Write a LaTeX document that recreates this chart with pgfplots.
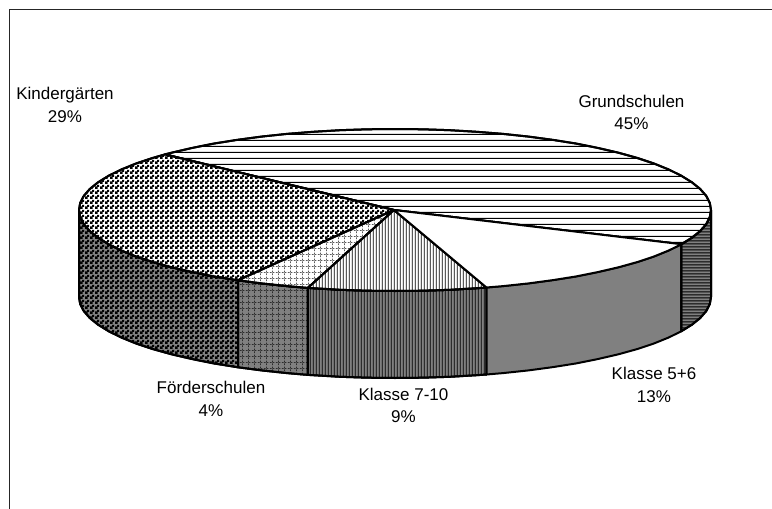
\documentclass[border=0pt]{standalone}
\usepackage{pgfplots}
\usepackage{fontspec}
\setmainfont{Liberation Sans}
\pgfplotsset{compat=1.18}
\usetikzlibrary{patterns}
\pgfdeclarepatternformonly{hlwide}{\pgfpointorigin}{\pgfqpoint{6bp}{6bp}}{\pgfqpoint{6bp}{6bp}}{
  \pgfsetlinewidth{1bp}\pgfpathmoveto{\pgfqpoint{-1bp}{3bp}}\pgfpathlineto{\pgfqpoint{7bp}{3bp}}\pgfusepath{stroke}}
\pgfdeclarepatternformonly{hlnarrow}{\pgfpointorigin}{\pgfqpoint{3bp}{3bp}}{\pgfqpoint{3bp}{3bp}}{
  \pgfsetlinewidth{1.1bp}\pgfpathmoveto{\pgfqpoint{-1bp}{1.5bp}}\pgfpathlineto{\pgfqpoint{4bp}{1.5bp}}\pgfusepath{stroke}}
\pgfdeclarepatternformonly{vlnarrow}{\pgfpointorigin}{\pgfqpoint{3bp}{3bp}}{\pgfqpoint{3bp}{3bp}}{
  \pgfsetlinewidth{1bp}\pgfpathmoveto{\pgfqpoint{1.5bp}{-1bp}}\pgfpathlineto{\pgfqpoint{1.5bp}{4bp}}\pgfusepath{stroke}}
\pgfdeclarepatternformonly{gridwide}{\pgfpointorigin}{\pgfqpoint{6bp}{6bp}}{\pgfqpoint{6bp}{6bp}}{
  \pgfsetlinewidth{0.6bp}\pgfsetdash{{2bp}{1bp}}{0bp}
  \pgfpathmoveto{\pgfqpoint{0bp}{3bp}}\pgfpathlineto{\pgfqpoint{6bp}{3bp}}
  \pgfpathmoveto{\pgfqpoint{3bp}{0bp}}\pgfpathlineto{\pgfqpoint{3bp}{6bp}}\pgfusepath{stroke}}
\pgfdeclarepatternformonly{checker}{\pgfpointorigin}{\pgfqpoint{5bp}{5bp}}{\pgfqpoint{5bp}{5bp}}{
  \pgfpathrectangle{\pgfqpoint{0bp}{0bp}}{\pgfqpoint{3.1bp}{3.1bp}}
  \pgfpathrectangle{\pgfqpoint{2.5bp}{2.5bp}}{\pgfqpoint{2.5bp}{2.5bp}}\pgfusepath{fill}}
\definecolor{wallgray}{HTML}{808080}
\begin{document}
\begin{tikzpicture}
\begin{axis}[
  at={(0,0)}, anchor=south west,
  scale only axis, width=772bp, height=509bp,
  xmin=0, xmax=772, ymin=0, ymax=509, y dir=reverse,
  hide axis, clip=false, no markers,
  every axis plot/.append style={sharp plot, line join=round},
]
% frame
\addplot[color=black!85, line width=1.5bp] coordinates {(9.5,509)(9.5,9.5)(772,9.5)};
% walls
\addplot[draw=black, line width=2bp, fill=wallgray, postaction={pattern=checker}] coordinates {
 (238,280.3)(213.7,276.4)(191.9,272)(171.6,267.3)(152.9,262.1)(136.1,256.5)(121.3,250.5)(108.6,244.2)(98.1,237.7)(89.8,231)(83.8,224.1)(80.2,217.1)(79,210)
 (79,297)(80.2,304.1)(83.8,311.1)(89.8,318)(98.1,324.7)(108.6,331.2)(121.3,337.5)(136.1,343.5)(152.9,349.1)(171.6,354.3)(191.9,359)(213.7,363.4)(238,367.3)} -- cycle;
\addplot[draw=black, line width=2bp, fill=wallgray, postaction={pattern=gridwide}] coordinates {
 (238,280.3)(261.5,283.4)(286.9,286.1)(307.9,287.9)(307.9,374.9)(286.9,373.1)(261.5,370.4)(238,367.3)} -- cycle;
\addplot[draw=black, line width=2bp, fill=wallgray, postaction={pattern=vlnarrow}] coordinates {
 (307.9,287.9)(313.2,288.2)(340.1,289.8)(367.4,290.7)(395,291)(422.6,290.7)(449.9,289.8)(476.8,288.2)(486.5,287.5)
 (486.5,374.5)(476.8,375.2)(449.9,376.8)(422.6,377.7)(395,378)(367.4,377.7)(340.1,376.8)(313.2,375.2)(307.9,374.9)} -- cycle;
\addplot[draw=black, line width=2bp, fill=wallgray] coordinates {
 (486.5,287.5)(503.1,286.1)(528.5,283.4)(553,280.1)(576.3,276.4)(598.1,272)(618.4,267.3)(637.1,262.1)(653.9,256.5)(668.7,250.5)(681.4,244.2)
 (681.4,331.2)(668.7,337.5)(653.9,343.5)(637.1,349.1)(618.4,354.3)(598.1,359)(576.3,363.4)(553,367.1)(528.5,370.4)(503.1,373.1)(486.5,374.5)} -- cycle;
\addplot[draw=black, line width=2bp, fill=wallgray, postaction={pattern=hlnarrow}] coordinates {
 (681.4,244.2)(691.9,237.7)(700.2,231)(706.2,224.1)(709.8,217.1)(711,210)
 (711,297)(709.8,304.1)(706.2,311.1)(700.2,318)(691.9,324.7)(681.4,331.2)} -- cycle;
% top faces
\addplot[draw=black, line width=2bp, fill=white, postaction={pattern=hlwide}] coordinates {
 (394,210)(165,154.4)(171.6,152.7)(191.9,148)(213.7,143.6)(237,139.9)(261.5,136.6)(286.9,133.9)(313.2,131.8)(340.1,130.2)(367.4,129.3)(395,129)(422.6,129.3)(449.9,130.2)(476.8,131.8)(503.1,133.9)(528.5,136.6)(553,139.9)(576.3,143.6)(598.1,148)(618.4,152.7)(637.1,157.9)(653.9,163.5)(668.7,169.5)(681.4,175.8)(691.9,182.3)(700.2,189)(706.2,195.9)(709.8,202.9)(711,210)(709.8,217.1)(706.2,224.1)(700.2,231)(691.9,237.7)(681.4,244.2)} -- cycle;
\addplot[draw=black, line width=2bp, fill=white, postaction={pattern=checker}] coordinates {
 (394,210)(238,280.3)(213.7,276.4)(191.9,272)(171.6,267.3)(152.9,262.1)(136.1,256.5)(121.3,250.5)(108.6,244.2)(98.1,237.7)(89.8,231)(83.8,224.1)(80.2,217.1)(79,210)(80.2,202.9)(83.8,195.9)(89.8,189)(98.1,182.3)(108.6,175.8)(121.3,169.5)(136.1,163.5)(152.9,157.9)(165,154.4)} -- cycle;
\addplot[draw=black, line width=2bp, fill=white, postaction={pattern=gridwide}] coordinates {
 (394,210)(307.9,287.9)(286.9,286.1)(261.5,283.4)(238,280.3)} -- cycle;
\addplot[draw=black, line width=2bp, fill=white, postaction={pattern=vlnarrow}] coordinates {
 (394,210)(486.5,287.5)(476.8,288.2)(449.9,289.8)(422.6,290.7)(395,291)(367.4,290.7)(340.1,289.8)(313.2,288.2)(307.9,287.9)} -- cycle;
\addplot[draw=black, line width=2bp, fill=white] coordinates {
 (394,210)(681.4,244.2)(668.7,250.5)(653.9,256.5)(637.1,262.1)(618.4,267.3)(598.1,272)(576.3,276.4)(553,280.1)(528.5,283.4)(503.1,286.1)(486.5,287.5)} -- cycle;
% labels
\tikzset{lab/.style={font=\fontsize{17bp}{19bp}\selectfont, text=black, inner sep=0pt, anchor=center}}
\node[lab] at (axis cs:65,95) {Kindergärten};
\node[lab] at (axis cs:65,117) {29\%};
\node[lab] at (axis cs:631.5,101) {Grundschulen};
\node[lab] at (axis cs:631.5,124) {45\%};
\node[lab] at (axis cs:654,373.5) {Klasse 5+6};
\node[lab] at (axis cs:654,397) {13\%};
\node[lab] at (axis cs:403.5,394) {Klasse 7-10};
\node[lab] at (axis cs:403.5,417) {9\%};
\node[lab] at (axis cs:211,387) {Förderschulen};
\node[lab] at (axis cs:211,411) {4\%};
\end{axis}
\pgfresetboundingbox
\path[use as bounding box] (0,0) rectangle (772bp,509bp);
\end{tikzpicture}
\end{document}
